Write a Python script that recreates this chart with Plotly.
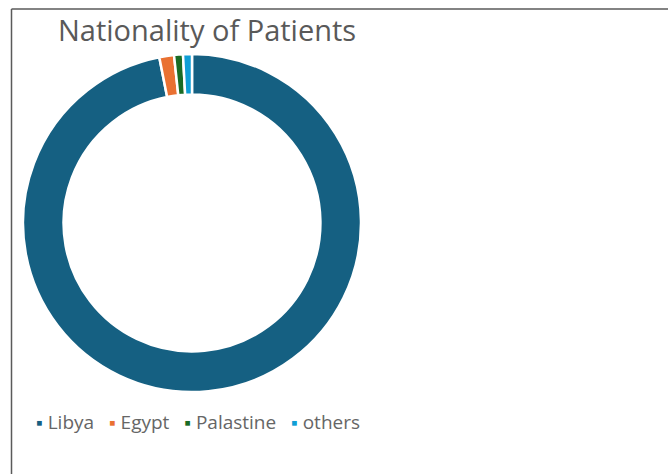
import plotly.graph_objects as go

# Share of patients by nationality (%)
labels = ["Libya", "Egypt", "Palastine", "others"]
values = [96.9, 1.4, 0.85, 0.85]
colors = ["#156082", "#E97132", "#196B24", "#0F9ED5"]

title_text = "Nationality of Patients"
text_color = "#595959"

W, H = 668, 474

fig = go.Figure()
fig.add_trace(go.Pie(
    labels=labels,
    values=values,
    hole=0.76,
    sort=False,
    direction="clockwise",
    rotation=0,
    textinfo="none",
    hoverinfo="label+percent",
    marker=dict(colors=colors, line=dict(color="white", width=2.5)),
    domain=dict(x=[23 / W, 361 / W], y=[82 / H, 420 / H]),
    showlegend=False,
))

# Legend row: coloured square bullet followed by each category name
gap = "\u00a0" * 3
legend_text = gap.join(
    f"<span style='color:{c}'>\u25aa</span>\u00a0{lab}" for lab, c in zip(labels, colors)
)

fig.update_layout(
    width=W,
    height=H,
    margin=dict(l=0, r=0, t=0, b=0),
    paper_bgcolor="white",
    plot_bgcolor="white",
    font=dict(family="Open Sans", color=text_color),
    annotations=[
        dict(text=title_text, x=56 / W, y=1 - 29 / H, xref="paper", yref="paper",
             xanchor="left", yanchor="middle", showarrow=False,
             font=dict(size=29, color=text_color, family="Open Sans")),
        dict(text=legend_text, x=34 / W, y=1 - 422 / H, xref="paper", yref="paper",
             xanchor="left", yanchor="middle", showarrow=False,
             font=dict(size=19, color="#666666", family="Open Sans")),
    ],
    shapes=[
        dict(type="line", xref="paper", yref="paper", x0=11.5 / W, x1=1, y0=1 - 9 / H, y1=1 - 9 / H,
             line=dict(color="#5a5a5a", width=1.5)),
        dict(type="line", xref="paper", yref="paper", x0=11.5 / W, x1=11.5 / W, y0=0, y1=1 - 9 / H,
             line=dict(color="#5a5a5a", width=1.5)),
    ],
)

fig.write_html("out.html")
